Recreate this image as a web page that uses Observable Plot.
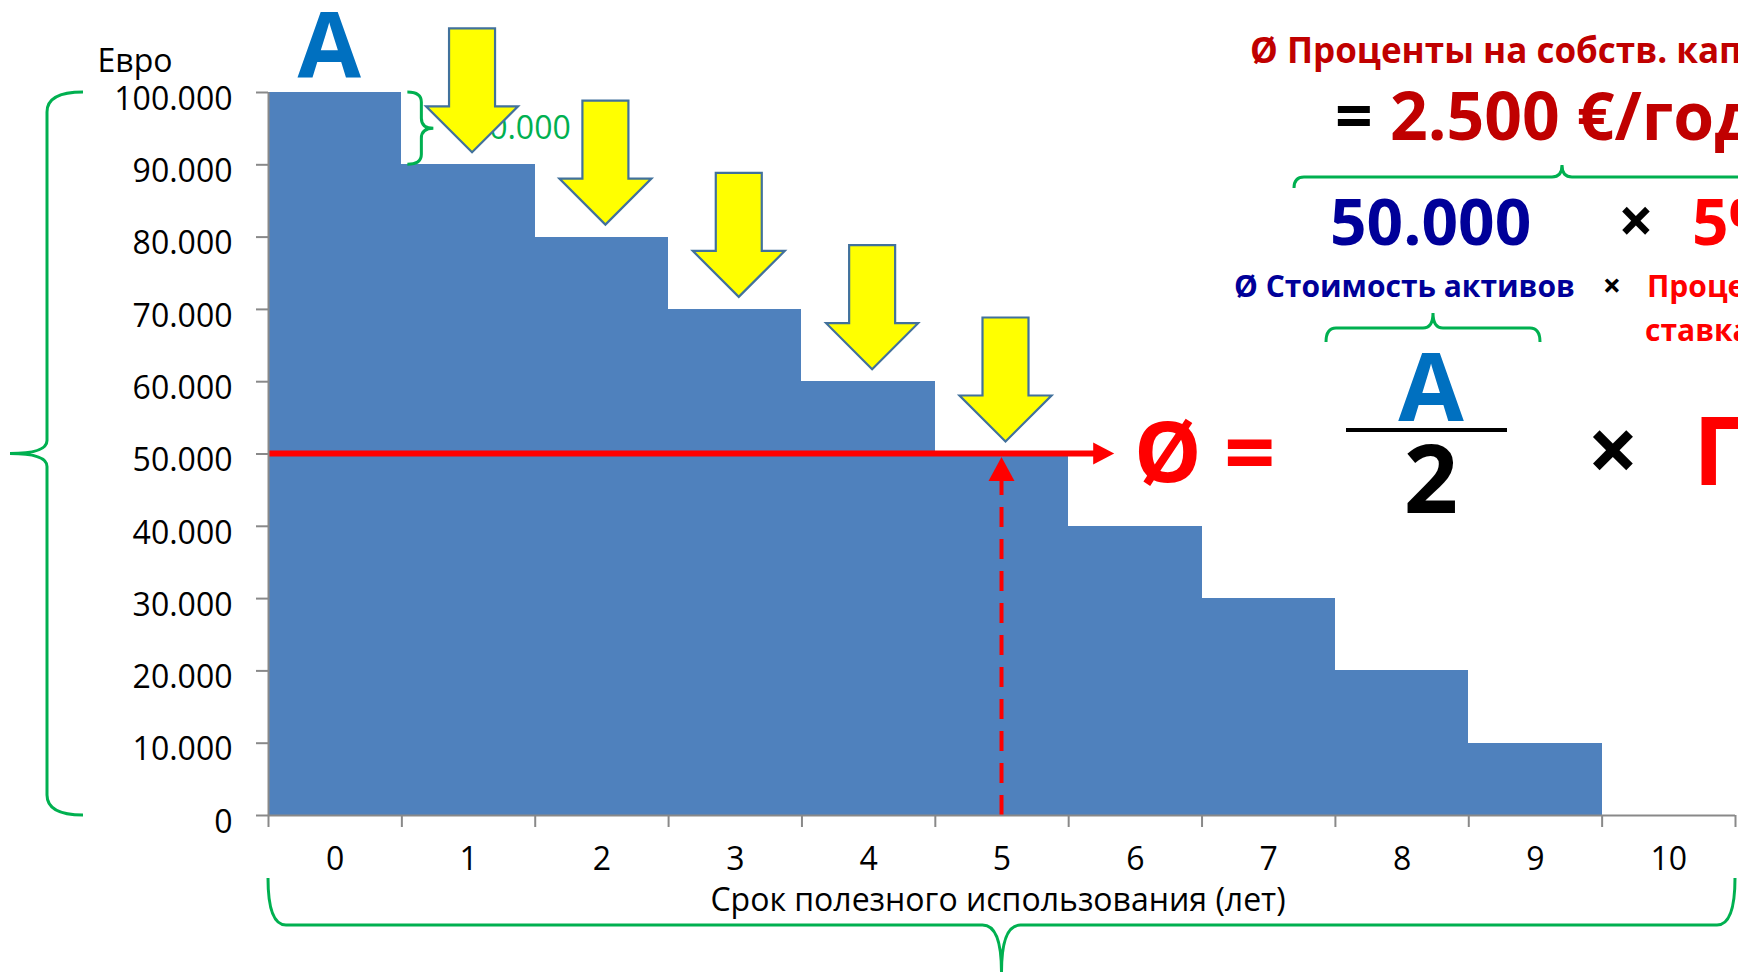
<!DOCTYPE html>
<html>
<head>
<meta charset="utf-8">
<script src="https://cdn.jsdelivr.net/npm/d3@7"></script>
<script src="https://cdn.jsdelivr.net/npm/@observablehq/plot@0.6"></script>
<style>
html, body { margin: 0; padding: 0; background: #fff; overflow: hidden; }
#chart svg { display: block; }
</style>
</head>
<body>
<div id="chart"></div>
<script>
// ---------- data ----------
const years = [0, 1, 2, 3, 4, 5, 6, 7, 8, 9, 10];
const bookValues = [100000, 90000, 80000, 70000, 60000, 50000, 40000, 30000, 20000, 10000, 0];
const yTicks = [0, 10000, 20000, 30000, 40000, 50000, 60000, 70000, 80000, 90000, 100000];
const xTickLabels = ["0", "1", "2", "3", "4", "5", "6", "7", "8", "9", "10"];
const arrowYears = [1, 2, 3, 4, 5];
const interestRate = 0.05;
const yLabel = "Евро";
const xLabel = "Срок полезного использования (лет)";
const assetSymbol = "A";
const titleText = "Ø Проценты на собств. капитал";
const perYearText = " €/год";
const avgAssetText = "Ø Стоимость активов";
const rateTextLines = ["Процентная", "ставка"];
const avgSymbol = "Ø";
const rateSymbol = "П";

// ---------- derived ----------
const rows = years.map((year, i) => ({year, value: bookValues[i], label: xTickLabels[i]}));
const averageValue = d3.mean(bookValues);                 // 50.000
const averageYear = bookValues.indexOf(averageValue);     // 5
const annualInterest = averageValue * interestRate;       // 2.500
const stepDiff = bookValues[0] - bookValues[1];           // 10.000
const ru = d3.formatLocale({decimal: ",", thousands: ".", grouping: [3], currency: ["", " €"]});
const fmt = ru.format(",");

// ---------- styles / layout ----------
const W = 1738, H = 973;
const BAR = "#4F81BD", AXIS = "#898989", GREEN = "#00B050", YELLOW = "#FFFF00", ARROW_EDGE = "#41719C";
const RED = "#FF0000", DARKRED = "#C00000", NAVY = "#000099", BLUE = "#0070C0";

function bracePath(p1, p2, side, stem, tip, r, rTip) {
  const dx = p2[0] - p1[0], dy = p2[1] - p1[1], L = Math.hypot(dx, dy);
  const t = [dx / L, dy / L], n = [-t[1] * side, t[0] * side];
  const P = (u, v) => (p1[0] + u * t[0] + v * n[0]).toFixed(2) + "," + (p1[1] + u * t[1] + v * n[1]).toFixed(2);
  const h = L / 2;
  return `M${P(0,0)}Q${P(0,stem)} ${P(r,stem)}L${P(h-rTip,stem)}Q${P(h,stem)} ${P(h,tip)}Q${P(h,stem)} ${P(h+rTip,stem)}L${P(L-r,stem)}Q${P(L,stem)} ${P(L,0)}`;
}

function downArrowPath(cx, tipY) {
  const sw = 23, hw = 46, hh = 46, len = 124;
  const y0 = tipY - len, yh = tipY - hh;
  return `M${cx-sw},${y0}H${cx+sw}V${yh}H${cx+hw}L${cx},${tipY}L${cx-hw},${yh}H${cx-sw}Z`;
}

// braces tied to the scales
const bracesLayer = (index, {x, y}) => {
  const g = d3.create("svg:g").attr("fill", "none").attr("stroke", GREEN).attr("stroke-width", 3);
  // left brace: whole value range
  g.append("path").attr("d", bracePath([x(0) - 185, y(bookValues[0])], [x(0) - 185, y(0)], 1, 36, 73, 20, 13));
  // bottom brace: whole useful life
  g.append("path").attr("d", bracePath([x(0), 878], [x(years.length), 878], 1, 47, 94, 18, 19));
  // small brace: first step
  g.append("path").attr("d", bracePath([x(1) + 6, y(bookValues[0])], [x(1) + 6, y(bookValues[1])], -1, 14, 26, 10, 10));
  // formula braces
  g.append("path").attr("d", bracePath([1294, 188], [1830, 188], -1, 11, 23, 10, 10));
  g.append("path").attr("d", bracePath([1326, 342], [1540, 342], -1, 14, 29, 10, 10));
  return g.node();
};

// yellow depreciation arrows
const arrowsLayer = (index, {x, y}) => {
  const g = d3.create("svg:g").attr("fill", YELLOW).attr("stroke", ARROW_EDGE).attr("stroke-width", 2.2).attr("stroke-linejoin", "miter");
  for (const yr of arrowYears) {
    g.append("path").attr("d", downArrowPath(x(yr + 0.5) + 4, y(bookValues[yr]) - 12));
  }
  return g.node();
};

// red average lines
const averageLayer = (index, {x, y}) => {
  const g = d3.create("svg:g");
  const ya = y(averageValue);
  const tipX = x(6.345);
  g.append("line").attr("x1", x(0)).attr("x2", tipX - 18).attr("y1", ya).attr("y2", ya)
    .attr("stroke", RED).attr("stroke-width", 6);
  g.append("path").attr("d", `M${tipX-21},${ya-11}L${tipX},${ya}L${tipX-21},${ya+11}Z`).attr("fill", RED);
  const xv = x(averageYear + 0.5), tipY = ya + 3.5;
  g.append("line").attr("x1", xv).attr("x2", xv).attr("y1", y(0)).attr("y2", tipY + 22)
    .attr("stroke", RED).attr("stroke-width", 4).attr("stroke-dasharray", "20,12");
  g.append("path").attr("d", `M${xv-13},${tipY+24}L${xv},${tipY}L${xv+13},${tipY+24}Z`).attr("fill", RED);
  return g.node();
};

// formula on the right
const formulaLayer = () => {
  const g = d3.create("svg:g").attr("font-weight", "bold").attr("text-anchor", "start");
  const T = (px, py, size, fill, text, anchor = "start") =>
    g.append("text").attr("x", px).attr("y", py).attr("font-size", size).attr("fill", fill)
      .attr("text-anchor", anchor).text(text);
  T(1250, 63, 35, DARKRED, titleText);
  const t2 = g.append("text").attr("x", 1335).attr("y", 140).attr("font-size", 66).attr("text-anchor", "start");
  t2.append("tspan").attr("fill", "#000").text("=");
  t2.append("tspan").attr("fill", DARKRED).text(" " + fmt(annualInterest) + perYearText);
  T(1330, 245, 64, NAVY, fmt(averageValue));
  T(1636, 243, 62, "#000", "×", "middle");
  T(1692, 245, 64, RED, Math.round(interestRate * 100) + "%");
  T(1234, 297, 30, NAVY, avgAssetText);
  T(1612, 297, 32, "#000", "×", "middle");
  T(1647, 297, 30, RED, rateTextLines[0]);
  T(1645, 341, 30, RED, rateTextLines[1]);
  T(1134, 482, 85, RED, avgSymbol);
  T(1224, 484, 90, RED, "=");
  T(1431, 421, 95, BLUE, assetSymbol, "middle");
  g.append("line").attr("x1", 1346).attr("x2", 1507).attr("y1", 430).attr("y2", 430).attr("stroke", "#000").attr("stroke-width", 4);
  T(1431, 513, 95, "#000", "2", "middle");
  T(1613, 482, 90, "#000", "×", "middle");
  T(1693, 485, 95, RED, rateSymbol);
  return g.node();
};

const chart = Plot.plot({
  width: W,
  height: H,
  marginTop: 92,
  marginRight: 3,
  marginBottom: 158,
  marginLeft: 268,
  style: {fontFamily: "'Open Sans', 'Noto Sans', sans-serif", fontSize: "32px", background: "#fff", overflow: "hidden", color: "#000"},
  x: {type: "linear", domain: [0, years.length], axis: null},
  y: {type: "linear", domain: [0, bookValues[0]], axis: null},
  marks: [
    Plot.rectY(rows.filter(d => d.value > 0), {x1: "year", x2: d => d.year + 1, y: "value", fill: BAR, shapeRendering: "crispEdges"}),
    averageLayer,
    Plot.ruleX([0], {stroke: AXIS, strokeWidth: 2}),
    Plot.ruleY([0], {stroke: AXIS, strokeWidth: 2}),
    Plot.axisY({ticks: yTicks, tickSize: 12, stroke: AXIS, strokeWidth: 2, fill: "none", label: null}),
    Plot.axisX({ticks: d3.range(0, years.length + 1), tickSize: 12, stroke: AXIS, strokeWidth: 2, fill: "none", label: null}),
    Plot.text(yTicks, {x: 0, y: d => d, text: d => fmt(d), textAnchor: "end", dx: -36, dy: 7, fontSize: 32, fill: "#000"}),
    Plot.text(rows, {x: d => d.year + 0.5, y: 0, text: "label", lineAnchor: "top", dy: 32, fontSize: 32, fill: "#000"}),
    Plot.text([xLabel], {frameAnchor: "bottom", lineAnchor: "bottom", dy: 95, dx: -4, fontSize: 32, fill: "#000"}),
    Plot.text([yLabel], {frameAnchor: "top-left", textAnchor: "start", lineAnchor: "bottom", dx: -171, dy: -21, fontSize: 32, fill: "#000"}),
    Plot.text([assetSymbol], {x: 0.5, y: bookValues[0], lineAnchor: "bottom", dy: -15, dx: -6, fontSize: 92, fontWeight: "bold", fill: BLUE}),
    Plot.text([fmt(stepDiff)], {x: 1, y: (bookValues[0] + bookValues[1]) / 2, textAnchor: "start", lineAnchor: "middle", dx: 69, fontSize: 32, fill: GREEN}),
    bracesLayer,
    arrowsLayer,
    formulaLayer
  ]
});
document.getElementById("chart").appendChild(chart);
</script>
</body>
</html>
